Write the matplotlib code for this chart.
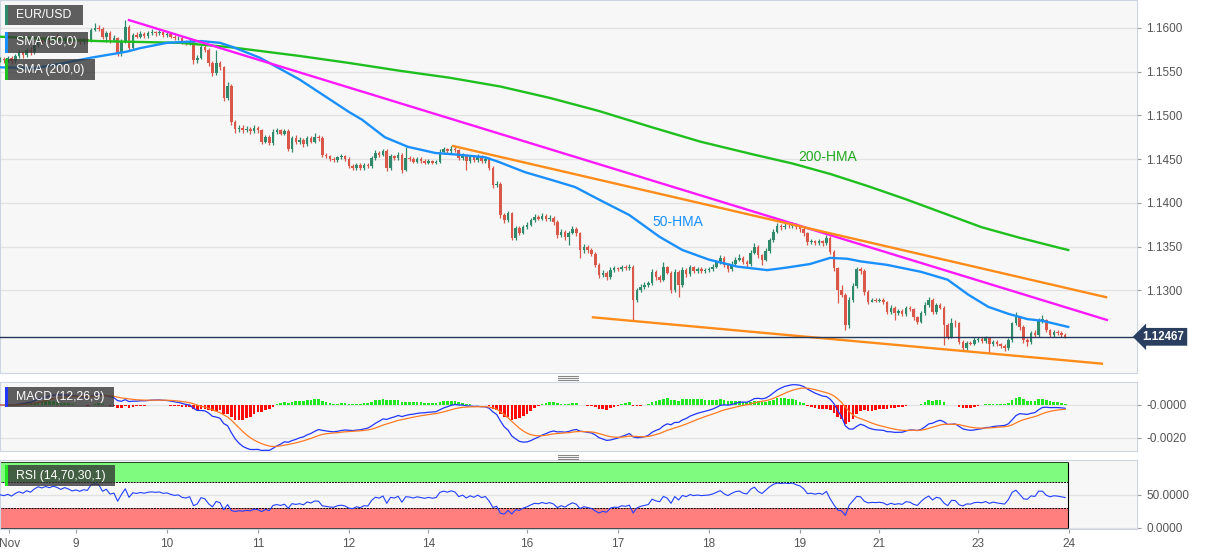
import numpy as np
import pandas as pd
import matplotlib
matplotlib.use('Agg')
import matplotlib.pyplot as plt
from matplotlib.patches import Rectangle
from matplotlib.lines import Line2D

# hourly EUR/USD candles, Nov 8 - Nov 23, in pips above 1.1200
close_pips = [
    365, 363, 366, 362, 368, 372, 369, 375, 372, 380,
    386, 384, 388, 386, 390, 388, 385, 389, 387, 384,
    386, 384, 387, 386, 398, 400, 399, 390, 394, 386,
    388, 371, 385, 401, 377, 392, 390, 393, 391, 394,
    395, 394, 395, 392, 393, 390, 388, 389, 384, 383,
    385, 363, 366, 378, 375, 360, 348, 360, 355, 320,
    334, 292, 284, 286, 283, 285, 282, 286, 283, 270,
    275, 268, 281, 283, 279, 282, 262, 274, 270, 272,
    267, 274, 270, 275, 274, 255, 253, 250, 249, 252,
    253, 250, 242, 240, 243, 240, 243, 242, 251, 257,
    255, 259, 240, 253, 251, 255, 237, 251, 250, 247,
    250, 248, 246, 248, 246, 247, 258, 261, 259, 262,
    260, 251, 254, 248, 252, 249, 253, 248, 250, 240,
    220, 222, 186, 180, 188, 160, 171, 166, 172, 175,
    180, 184, 182, 185, 181, 183, 178, 163, 167, 161,
    166, 170, 165, 146, 150, 146, 142, 129, 117, 120,
    115, 123, 125, 124, 127, 125, 127, 89, 100, 104,
    106, 108, 121, 115, 112, 126, 120, 100, 121, 106,
    123, 118, 126, 122, 124, 122, 123, 124, 127, 132,
    137, 129, 124, 130, 135, 137, 132, 130, 143, 150,
    140, 135, 145, 157, 167, 173, 172, 174, 173, 175,
    172, 170, 165, 155, 156, 154, 156, 154, 160, 144,
    125, 100, 95, 60, 89, 105, 124, 122, 98, 87,
    89, 88, 89, 86, 75, 80, 74, 76, 73, 80,
    78, 69, 64, 74, 83, 89, 75, 83, 80, 60,
    47, 63, 62, 41, 34, 40, 39, 43, 44, 42,
    45, 38, 41, 38, 36, 34, 43, 62, 69, 58,
    43, 41, 51, 49, 66, 66, 54, 49, 52, 51,
    49, 47]
high_pips = [
    367, 367, 368, 368, 370, 375, 374, 377, 378, 382,
    389, 390, 391, 390, 392, 393, 390, 391, 391, 389,
    388, 389, 389, 389, 400, 406, 403, 401, 397, 396,
    392, 390, 387, 409, 403, 394, 395, 396, 395, 397,
    399, 397, 398, 397, 396, 395, 392, 391, 391, 386,
    388, 387, 369, 381, 380, 377, 362, 375, 362, 357,
    338, 336, 295, 289, 289, 288, 287, 289, 288, 285,
    278, 277, 284, 286, 285, 284, 284, 276, 277, 275,
    274, 276, 276, 280, 277, 276, 257, 255, 252, 254,
    256, 255, 252, 244, 245, 245, 245, 245, 253, 260,
    259, 262, 261, 256, 255, 258, 257, 264, 253, 252,
    252, 252, 250, 250, 249, 249, 261, 264, 263, 265,
    264, 262, 257, 256, 254, 254, 256, 255, 253, 252,
    242, 225, 224, 188, 191, 190, 174, 173, 175, 178,
    183, 187, 186, 188, 187, 186, 185, 180, 170, 169,
    168, 173, 172, 167, 153, 152, 148, 144, 131, 123,
    122, 126, 128, 127, 129, 129, 130, 129, 103, 107,
    109, 111, 124, 123, 117, 132, 128, 122, 124, 123,
    126, 125, 129, 128, 126, 126, 125, 126, 130, 135,
    140, 139, 131, 133, 138, 141, 139, 134, 146, 154,
    152, 142, 148, 160, 170, 177, 176, 177, 177, 178,
    177, 174, 172, 167, 159, 158, 159, 158, 163, 162,
    146, 127, 106, 97, 92, 108, 127, 126, 124, 100,
    91, 91, 91, 91, 88, 83, 82, 78, 78, 82,
    82, 80, 71, 76, 86, 92, 91, 85, 85, 82,
    62, 68, 66, 64, 43, 42, 42, 46, 47, 46,
    48, 47, 43, 43, 40, 38, 45, 64, 75, 71,
    60, 45, 53, 54, 68, 72, 67, 56, 54, 54,
    53, 51]
low_pips = [
    361, 360, 361, 359, 360, 366, 366, 367, 369, 370,
    378, 381, 382, 383, 384, 385, 382, 383, 384, 381,
    382, 382, 382, 383, 384, 396, 396, 387, 384, 383,
    384, 368, 368, 383, 374, 375, 388, 388, 389, 389,
    392, 391, 392, 390, 390, 388, 386, 386, 382, 380,
    381, 359, 360, 364, 372, 357, 345, 346, 352, 317,
    318, 289, 280, 281, 280, 281, 279, 280, 280, 267,
    268, 266, 266, 279, 277, 277, 259, 258, 267, 267,
    264, 265, 268, 268, 271, 252, 251, 248, 247, 247,
    250, 248, 240, 238, 238, 238, 238, 240, 240, 249,
    252, 253, 236, 238, 249, 249, 234, 236, 248, 245,
    245, 246, 244, 244, 244, 244, 245, 256, 257, 257,
    258, 249, 249, 238, 246, 247, 247, 246, 246, 237,
    217, 218, 183, 177, 178, 157, 158, 163, 164, 170,
    173, 178, 180, 180, 179, 179, 175, 160, 161, 158,
    152, 164, 162, 137, 143, 143, 139, 126, 114, 115,
    112, 113, 121, 122, 122, 123, 123, 66, 87, 98,
    101, 104, 106, 112, 109, 110, 118, 97, 98, 92,
    104, 115, 116, 120, 120, 120, 120, 121, 122, 125,
    130, 126, 121, 122, 128, 133, 130, 127, 128, 141,
    137, 129, 133, 143, 155, 165, 169, 170, 171, 171,
    170, 167, 162, 152, 153, 152, 152, 151, 152, 141,
    122, 85, 92, 54, 57, 86, 103, 119, 95, 84,
    86, 86, 86, 84, 73, 73, 66, 72, 70, 71,
    76, 66, 61, 62, 72, 81, 73, 73, 78, 37,
    44, 45, 58, 38, 31, 32, 37, 37, 41, 40,
    40, 28, 36, 36, 34, 31, 32, 41, 60, 55,
    40, 36, 39, 47, 47, 63, 52, 47, 47, 49,
    47, 45]
first_open_pips = 363
last_price = 1.12467
# average hourly gain / loss before the first candle (seeds the RSI), in pips
rsi_seed_pips = 3.0

# hourly SMAs (candle index, pips)
sma50_idx = [0, 9, 15.8, 24, 33.5, 37, 44, 53, 58, 61.5, 68.5, 79, 92, 95.5,
             101.5, 107.6, 114.8, 121, 128, 131.4, 138.5, 145.6, 151.7, 158.3,
             166, 174, 180, 187, 194.5, 202.4, 207.7, 213.7, 219, 223.5, 227,
             234, 243, 250, 255.4, 260.7, 266, 271, 275, 281.8]
sma50_pips = [355, 354, 359, 366, 373, 377, 383, 385, 383, 378, 366, 341, 304, 295,
              275, 264, 257, 255, 252, 247, 235, 226, 218, 203,
              186, 161, 146, 135, 127, 123, 126, 130, 137, 136, 133,
              129, 121, 112, 95, 81, 73, 67, 65, 58]
sma200_idx = [0, 26, 47.5, 60.7, 79, 92, 105.5, 118.7, 132, 145, 158, 171.5,
              184.7, 199, 209, 219, 229, 239, 249, 259, 269, 279, 281.8]
sma200_pips = [390, 385, 383, 378, 368, 360, 351, 343, 333, 320, 305, 287,
               270, 255, 245, 233, 219, 204, 188, 172, 160, 149, 146]

# trend lines (candle index, pips)
pink_idx, pink_pips = [34, 292], [409, 66]
upper_idx, upper_pips = [119.5, 291.8], [265, 92]
lower_idx, lower_pips = [156.4, 290.7], [69, 16]

day_ticks = [2.4, 20, 44, 68, 92, 113, 139, 163, 187, 211, 232, 258, 282]
day_labels = ['Nov', '9', '10', '11', '12', '14', '16', '17', '18', '19', '21', '23', '24']
price_ticks = [1.1300, 1.1350, 1.1400, 1.1450, 1.1500, 1.1550, 1.1600]
macd_ticks = [0.0, -0.002]
macd_labels = ['-0.0000', '-0.0020']
rsi_ticks = [0, 50]
rsi_labels = ['0.0000', '50.0000']


def pips_to_price(p):
    return 1.12 + np.asarray(p, dtype=float) / 10000.0


W, H = 1207, 555
GREY = '#555555'
EDGE = '#cdd4e2'


def px_rect(x0, y0, x1, y1):
    return [x0 / W, 1 - y1 / H, (x1 - x0) / W, (y1 - y0) / H]


def tag(fig, x0, y0, x1, y1, stripe, text):
    fig.add_artist(Rectangle((x0 / W, 1 - y1 / H), (x1 - x0) / W, (y1 - y0) / H,
                             transform=fig.transFigure, fc='#333333', alpha=0.78,
                             ec='none', zorder=5))
    fig.add_artist(Rectangle((x0 / W, 1 - y1 / H), 2.5 / W, (y1 - y0) / H,
                             transform=fig.transFigure, fc=stripe, ec='none', zorder=6))
    fig.text((x0 + 11) / W, 1 - (y0 + y1) / 2 / H, text, color='white', fontsize=8.8,
             va='center', ha='left', zorder=7)


def handle(fig, yc):
    for dy in (-2, 0, 2):
        fig.add_artist(Line2D([558 / W, 578 / W], [1 - (yc + dy) / H] * 2,
                              transform=fig.transFigure, color='#888888', lw=0.8))


def style(ax):
    ax.set_facecolor('#f7f7f7')
    for s in ax.spines.values():
        s.set_color(EDGE)
    ax.yaxis.tick_right()
    ax.tick_params(axis='y', colors='#999999', labelcolor=GREY, labelsize=8.5, length=3)
    ax.set_xlim(-0.05, 299.95)
    ax.grid(axis='y', color='#e2e2e2', lw=0.9)
    ax.set_axisbelow(True)


def main():
    plt.rcParams['font.family'] = ['Liberation Sans', 'DejaVu Sans']
    close = pips_to_price(close_pips)
    high = pips_to_price(high_pips)
    low = pips_to_price(low_pips)
    opn = np.concatenate([pips_to_price([first_open_pips]), close[:-1]])
    idx = np.arange(len(close))

    fig = plt.figure(figsize=(W / 100, H / 100), dpi=100)
    ax = fig.add_axes(px_rect(0, 0, 1137, 373))
    ax_macd = fig.add_axes(px_rect(0, 382, 1137, 451))
    ax_rsi = fig.add_axes(px_rect(0, 460, 1137, 529))
    for a in (ax, ax_macd, ax_rsi):
        style(a)

    # price panel
    up = close >= opn
    colors = np.where(up, '#2f8a6c', '#d9584a')
    ax.vlines(idx, low, high, colors=colors, lw=0.9, zorder=3)
    body = np.maximum(np.abs(close - opn), 0.00006)
    ax.bar(idx, body, bottom=np.minimum(opn, close), width=0.68, color=colors, zorder=4)

    ax.plot(sma200_idx, pips_to_price(sma200_pips), color='#1fbf1f', lw=1.7, zorder=5)
    ax.plot(sma50_idx, pips_to_price(sma50_pips), color='#1a90ff', lw=1.7, zorder=5)
    ax.plot(pink_idx, pips_to_price(pink_pips), color='#ff1aff', lw=1.7, zorder=6)
    ax.plot(upper_idx, pips_to_price(upper_pips), color='#ff8c1a', lw=1.7, zorder=6)
    ax.plot(lower_idx, pips_to_price(lower_pips), color='#ff8c1a', lw=1.7, zorder=6)
    ax.axhline(last_price, color='#24395a', lw=1.0, zorder=7)

    ax.text(178.8, pips_to_price(178), '50-HMA', color='#1a90ff', fontsize=10,
            ha='center', va='center')
    ax.text(218.4, pips_to_price(252), '200-HMA', color='#22aa22', fontsize=10,
            ha='center', va='center')

    ax.set_ylim(pips_to_price(5.3), pips_to_price(432))
    ax.set_yticks(price_ticks)
    ax.set_yticklabels(['%.4f' % t for t in price_ticks])
    ax.set_xticks([])
    ax.text(1.0048, last_price, '1.12467', transform=ax.get_yaxis_transform(),
            color='white', fontsize=8.3, fontweight='bold', va='center', ha='left',
            clip_on=False, zorder=10,
            bbox=dict(boxstyle='larrow,pad=0.25', fc='#2a3f5f', ec='none'))

    # MACD (12,26,9)
    s = pd.Series(close)
    macd = s.ewm(span=12, adjust=False).mean() - s.ewm(span=26, adjust=False).mean()
    signal = macd.ewm(span=9, adjust=False).mean()
    hist = (macd - signal).values
    ax_macd.bar(idx, hist, width=0.7, color=np.where(hist >= 0, '#22e622', '#ff0a0a'),
                zorder=3)
    ax_macd.plot(idx, macd.values, color='#2136ff', lw=0.9, zorder=4)
    ax_macd.plot(idx, signal.values, color='#ff7a22', lw=0.9, zorder=4)
    ax_macd.set_ylim(-0.00279, 0.00139)
    ax_macd.set_yticks(macd_ticks)
    ax_macd.set_yticklabels(macd_labels)
    ax_macd.set_xticks([])

    # RSI (14), Wilder smoothing
    delta = s.diff()
    gain = delta.clip(lower=0)
    loss = -delta.clip(upper=0)
    gain.iloc[0] = loss.iloc[0] = rsi_seed_pips / 10000.0
    gain = gain.ewm(alpha=1 / 14, adjust=False).mean()
    loss = loss.ewm(alpha=1 / 14, adjust=False).mean()
    rsi = 100 - 100 / (1 + gain / loss)
    band_end = 281.7
    ax_rsi.fill_between([-1, band_end], 70, 100, color='#7ffb7f', lw=0, zorder=1)
    ax_rsi.fill_between([-1, band_end], 0, 30, color='#ff7f7f', lw=0, zorder=1)
    ax_rsi.hlines([70, 30], -1, band_end, colors='black', lw=0.7, linestyles=(0, (2, 1)),
                  zorder=2)
    ax_rsi.vlines(band_end, 0, 100, colors='black', lw=0.8, zorder=2)
    ax_rsi.hlines([0, 100], -1, band_end, colors='black', lw=0.5, zorder=2)
    ax_rsi.plot(idx, rsi.values, color='#2140ff', lw=0.8, zorder=4)
    ax_rsi.set_ylim(-2, 103)
    ax_rsi.set_yticks(rsi_ticks)
    ax_rsi.set_yticklabels(rsi_labels)
    ax_rsi.set_xticks(day_ticks)
    ax_rsi.set_xticklabels(day_labels)
    ax_rsi.tick_params(axis='x', colors='#999999', labelcolor=GREY, labelsize=8.5,
                       length=3)

    tag(fig, 5, 5, 83, 25, '#2f8a6c', 'EUR/USD')
    tag(fig, 5, 32, 88, 53, '#1a90ff', 'SMA (50,0)')
    tag(fig, 5, 59, 95, 80, '#1fbf1f', 'SMA (200,0)')
    tag(fig, 5, 387, 114, 407, '#2136ff', 'MACD (12,26,9)')
    tag(fig, 5, 465, 115, 486, '#22e622', 'RSI (14,70,30,1)')
    handle(fig, 378)
    handle(fig, 457)

    fig.savefig('out.png', dpi=100)


if __name__ == '__main__':
    main()
